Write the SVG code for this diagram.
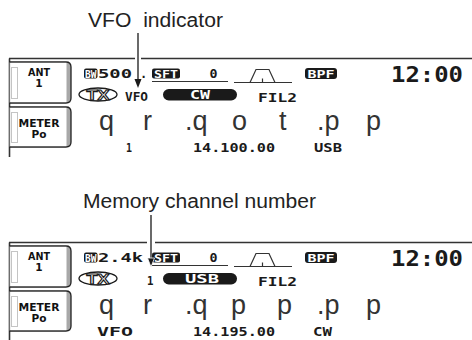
<svg xmlns="http://www.w3.org/2000/svg" width="472" height="340" viewBox="0 0 472 340">
<style>
.lbl{font-family:"Liberation Sans",Arial,sans-serif;font-size:20px;fill:#222}
.lcd{font-family:"DejaVu Sans Mono",monospace;font-weight:bold;fill:#1a1a1a}
.inv{font-family:"DejaVu Sans Mono",monospace;font-weight:bold;fill:#fff}
.big{font-family:"Liberation Sans",Arial,sans-serif;font-size:27px;fill:#333}
.frame{stroke:#333;stroke-width:1.6;fill:none}
.thin{stroke:#333;stroke-width:1.2;fill:none}
.btn{fill:#a8a8a8;stroke:#222;stroke-width:1.3}
.face{fill:#fff}
.inner{fill:none;stroke:#c4c4c4;stroke-width:1}
.btxt{font-family:"DejaVu Sans",sans-serif;font-weight:bold;font-size:10.5px;fill:#111;text-anchor:middle}
</style>
<defs>
<g id="panel">
  <line class="frame" x1="9.5" y1="58.5" x2="9.5" y2="157"/>
  <!-- ANT button -->
  <path class="btn" d="M9.5,62 H66 Q71,62 71,67 V98 Q71,103 66,103 H9.5"/>
  <rect class="face" x="10.2" y="62.8" width="56.3" height="39.4"/>
  <rect class="inner" x="11.5" y="67.5" width="6" height="31"/>
  <!-- METER button -->
  <path class="btn" d="M9.5,107 H66 Q71,107 71,112 V142 Q71,147 66,147 H9.5"/>
  <rect class="face" x="10.2" y="107.8" width="56.3" height="38.4"/>
  <rect class="inner" x="11.5" y="112.5" width="6" height="30"/>
  <text class="btxt" x="39" y="75.5" textLength="22" lengthAdjust="spacingAndGlyphs">ANT</text>
  <text class="btxt" x="39" y="87">1</text>
  <text class="btxt" x="39" y="127" textLength="41" lengthAdjust="spacingAndGlyphs">METER</text>
  <text class="btxt" x="39" y="137.5" textLength="15" lengthAdjust="spacingAndGlyphs">Po</text>
  <!-- row 1 -->
  <rect x="84" y="68.5" width="13.5" height="10" rx="2" fill="#1a1a1a"/>
  <text class="inv" x="85" y="77.5" font-size="10" textLength="11.5" lengthAdjust="spacingAndGlyphs">BW</text>
  <rect x="152" y="68.5" width="28" height="10" rx="2" fill="#1a1a1a"/>
  <text class="inv" x="154" y="77.5" font-size="10" textLength="24" lengthAdjust="spacingAndGlyphs">SFT</text>
  <text class="lcd" x="209.5" y="78" font-size="12.5" textLength="8" lengthAdjust="spacingAndGlyphs">0</text>
  <line class="thin" x1="152" y1="81.5" x2="228" y2="81.5"/>
  <line class="thin" x1="234" y1="82.5" x2="292" y2="82.5"/>
  <path class="thin" d="M250,82.5 L256,69.5 H269 L275,82.5 M262.5,78.5 V82.5"/>
  <rect x="305" y="68" width="32" height="11" rx="3" fill="#1a1a1a"/>
  <text class="inv" x="307.5" y="77.5" font-size="10.5" textLength="27" lengthAdjust="spacingAndGlyphs">BPF</text>
  <text class="lcd" x="391" y="82" font-size="20.5" textLength="72" lengthAdjust="spacingAndGlyphs">12:00</text>
  <!-- row 2 -->
  <ellipse cx="98" cy="94.5" rx="19" ry="6.5" fill="#fff" stroke="#1a1a1a" stroke-width="1.3"/>
  <text x="98" y="100" font-family="Liberation Sans,Arial,sans-serif" font-weight="bold" font-size="15" text-anchor="middle" fill="#fff" stroke="#1a1a1a" stroke-width="1.1" textLength="23" lengthAdjust="spacingAndGlyphs">TX</text>
  <rect x="163" y="89" width="74" height="11.5" rx="5.75" fill="#1a1a1a"/>
  <text class="lcd" x="258" y="101.5" font-size="13" textLength="39" lengthAdjust="spacingAndGlyphs">FIL2</text>
</g>
</defs>

<g id="label-vfo">
  <text class="lbl" x="88" y="27" xml:space="preserve" textLength="135" lengthAdjust="spacingAndGlyphs">VFO  indicator</text>
</g>
<g id="label-memory">
  <text class="lbl" x="83" y="207.5" textLength="233" lengthAdjust="spacingAndGlyphs">Memory channel number</text>
</g>

<g id="display-vfo">
  <line class="frame" x1="9" y1="58.5" x2="135" y2="58.5"/>
  <line class="frame" x1="141" y1="58.5" x2="472" y2="58.5"/>
  <use href="#panel"/>
  <text class="lcd" x="98" y="78" font-size="12.5" textLength="34" lengthAdjust="spacingAndGlyphs">500</text>
  <text class="lcd" x="140" y="78" font-size="12">.</text>
  <text class="lcd" x="125" y="100.5" font-size="13" textLength="23" lengthAdjust="spacingAndGlyphs">VFO</text>
  <text class="inv" x="200" y="99" font-size="12" text-anchor="middle" textLength="20" lengthAdjust="spacingAndGlyphs">CW</text>
  <text class="big" y="130"><tspan x="99">q</tspan><tspan x="143">r</tspan><tspan x="185">.q</tspan><tspan x="232">o</tspan><tspan x="279">t</tspan><tspan x="317">.p</tspan><tspan x="366">p</tspan></text>
  <text class="lcd" x="126" y="152" font-size="12.5" textLength="6" lengthAdjust="spacingAndGlyphs">1</text>
  <text class="lcd" x="193" y="152" font-size="12.5" textLength="82" lengthAdjust="spacingAndGlyphs">14.100.00</text>
  <text class="lcd" x="314" y="152" font-size="12.5" textLength="28" lengthAdjust="spacingAndGlyphs">USB</text>
</g>

<g id="display-memory">
  <line class="frame" x1="9" y1="242.5" x2="147" y2="242.5"/>
  <line class="frame" x1="155" y1="242.5" x2="472" y2="242.5"/>
  <use href="#panel" transform="translate(0,184)"/>
  <text class="lcd" x="98" y="262" font-size="12.5" textLength="45" lengthAdjust="spacingAndGlyphs">2.4k</text>
  <text class="lcd" x="147" y="284.5" font-size="13" textLength="6.5" lengthAdjust="spacingAndGlyphs">1</text>
  <text class="inv" x="202" y="283" font-size="12" text-anchor="middle" textLength="34" lengthAdjust="spacingAndGlyphs">USB</text>
  <text class="big" y="314"><tspan x="99">q</tspan><tspan x="143">r</tspan><tspan x="185">.q</tspan><tspan x="231">p</tspan><tspan x="277">p</tspan><tspan x="317">.p</tspan><tspan x="366">p</tspan></text>
  <text class="lcd" x="97" y="336" font-size="12.5" textLength="36" lengthAdjust="spacingAndGlyphs">VFO</text>
  <text class="lcd" x="193" y="336" font-size="12.5" textLength="82" lengthAdjust="spacingAndGlyphs">14.195.00</text>
  <text class="lcd" x="313" y="336" font-size="12.5" textLength="19" lengthAdjust="spacingAndGlyphs">CW</text>
</g>

<g id="connectors">
  <line x1="138" y1="33" x2="138" y2="80" stroke="#1a1a1a" stroke-width="1.3"/>
  <polygon points="134.5,79 141.5,79 138,88" fill="#1a1a1a"/>
  <line x1="151" y1="215" x2="151" y2="259" stroke="#1a1a1a" stroke-width="1.3"/>
  <polygon points="147.5,258 154.5,258 151,267" fill="#1a1a1a" stroke="#fff" stroke-width="0.8"/>
</g>
</svg>
